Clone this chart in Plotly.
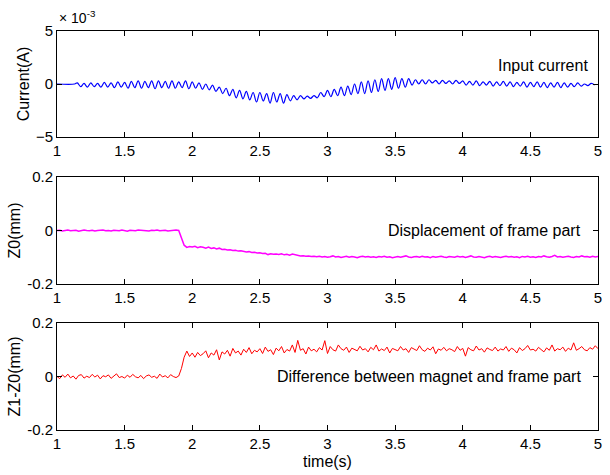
import numpy as np
import plotly.graph_objects as go

# ---------------- data ----------------
# Input current (units of 1e-3 A): alternating peak/trough values, one every 0.025 s from t=1.15 s
current_osc_mA = [
    0.1, -0.25, 0.05, -0.3, 0.1, -0.25, 0.05, -0.3, 0.15, -0.3,
    0.1, -0.35, 0.2, -0.3, 0.15, -0.4, 0.25, -0.35,
    0.3, -0.4, 0.25, -0.35, 0.3, -0.45, 0.3, -0.35, 0.25, -0.4, 0.3, -0.4, 0.2, -0.35, 0.3, -0.45,
    0.2, -0.4, 0.1, -0.5, 0.0, -0.55, -0.1, -0.7,
    -0.3, -0.9, -0.4, -1.1, -0.5, -1.3, -0.6, -1.4,
    -0.7, -1.5, -0.8, -1.7, -0.8, -1.6, -0.9, -1.8, -0.8, -1.7, -0.9, -1.8,
    -1.0, -1.6, -1.1, -1.5, -1.1, -1.4, -1.15, -1.35, -1.1, -1.3,
    -0.8, -1.2, -0.6, -1.2, -0.5, -1.1, -0.3, -1.1, -0.2, -1.0,
    0.0, -0.9, 0.2, -0.9, 0.3, -0.8, 0.4, -0.7, 0.5, -0.6, 0.5, -0.5, 0.6, -0.4, 0.5, -0.3,
    0.5, -0.1, 0.4, 0.0, 0.4, 0.0, 0.4, 0.1, 0.35, 0.0, 0.35, 0.05, 0.3, 0.0, 0.35, 0.05,
    0.3, -0.1, 0.25, -0.1, 0.3, -0.15, 0.2, -0.1, 0.25, -0.2, 0.2, -0.15, 0.25, -0.2, 0.2, -0.25,
    0.15, -0.2, 0.2, -0.3, 0.15, -0.25, 0.2, -0.3, 0.15, -0.35, 0.1, -0.3, 0.15, -0.35, 0.1, -0.3,
    0.05, -0.25, 0.1, -0.2, 0.0, -0.15, 0.05, -0.1,
]
current_start_t = [1.0, 1.13]
current_start_mA = [0.0, 0.0]

# Displacement of frame part Z0 (micrometres), sampled every 0.02 s from 1.00 to 5.00 s
z0_um = [
    0, 1, -2, 0, 2, -1, 0, 1, -3, 0, 2, 0, -1, 1, -2, 0, 1, 2, -1, 0,
    -2, 1, 0, -1, 2, 0, -3, 1, 0, -1, 2, 1, -1, 0, -2, 1, 0, 2, -1, 0,
    1, -2, 0, 1, 2, 0,
    -25, -55, -63, -60, -62, -59, -64, -61, -63, -66,
    -62, -67, -65, -69, -66, -71, -70, -73, -72, -75,
    -74, -77, -76, -78, -80, -79, -82, -81, -84, -83,
    -86, -85, -90, -87, -89, -88, -90, -87, -91, -89,
    -92, -88, -91, -93, -95, -94, -96, -95, -97, -96,
    -98, -96, -99, -97, -100, -98, -95, -99, -97, -101,
    -98, -96, -100, -97, -99, -102, -98, -96, -99, -97,
    -100, -98, -101, -97, -99, -96, -100, -98, -102, -99,
    -97, -100, -98, -95, -99, -101, -98, -97, -100, -96,
    -99, -98, -102, -97, -100, -98, -96, -99, -101, -97,
    -98, -100, -96, -99, -97, -101, -98, -95, -99, -100,
    -97, -99, -102, -98, -96, -100, -97, -99, -101, -98,
    -96, -99, -97, -100, -98, -102, -97, -99, -96, -100,
    -98, -101, -97, -99, -95, -98, -100, -97, -93, -99,
    -97, -100, -98, -96, -99, -101, -97, -99, -95, -98,
    -97, -100, -96, -99, -97,
]

# Difference between magnet and frame part Z1-Z0 (micrometres), every 0.02 s from 1.00 to 5.00 s
diff_um = [
    0, -8, 6, -3, 9, -5, 2, -10, 4, 7, -6, 1, -4, 8, -2, 5, -9, 3, -1, 6,
    -7, 2, 10, -4, 0, -6, 5, -3, 8, -1, -5, 4, -8, 2, 6, -3, 1, -7, 9, -2,
    3, -5, 7, 0, -4, 2,
    30, 72, 95, 75, 88, 72, 90, 78, 85, 96,
    70, 88, 80, 100, 62, 92, 84, 98, 76, 105,
    88, 95, 80, 102, 90, 108, 85, 98, 92, 104,
    86, 110, 94, 100, 82, 106, 96, 112, 88, 101,
    95, 118, 90, 135, 98, 104, 84, 110, 96, 102,
    92, 108, 99, 134, 86, 112, 100, 95, 118, 104,
    98, 110, 90, 106, 101, 96, 113, 99, 104, 92,
    109, 100, 118, 95, 103, 97, 110, 88, 105, 101,
    96, 112, 99, 104, 90, 108, 102, 97, 115, 100,
    94, 106, 99, 111, 85, 103, 98, 109, 96, 104,
    100, 93, 112, 98, 105, 76, 108, 100, 96, 114,
    99, 104, 91, 107, 101, 97, 110, 95, 103, 99,
    112, 94, 106, 100, 88, 108, 97, 104, 116, 99,
    102, 95, 109, 100, 92, 107, 98, 118, 95, 104,
    100, 110, 94, 106, 99, 126, 98, 104, 112, 100,
    96, 108, 102, 115, 104,
]

x_ticks = [1, 1.5, 2, 2.5, 3, 3.5, 4, 4.5, 5]
y1_ticks = [-5, 0, 5]
y23_ticks = [-0.2, 0, 0.2]
y23_ticklabels = ["-0.2", "0", "0.2"]

# ---------------- build ----------------
t_cur = current_start_t + [1.15 + 0.025 * i for i in range(len(current_osc_mA))]
y_cur = current_start_mA + current_osc_mA
t_z0 = np.linspace(1, 5, len(z0_um))
t_diff = np.linspace(1, 5, len(diff_um))

FONT = "Liberation Sans, Arial, sans-serif"
TXT = 16
TICK = 15

fig = go.Figure()
fig.add_trace(go.Scatter(x=t_cur, y=y_cur, mode="lines", line=dict(color="#0000ff", width=1.2, shape="spline"),
                         xaxis="x", yaxis="y", showlegend=False))
fig.add_trace(go.Scatter(x=t_z0, y=np.array(z0_um) / 1000.0, mode="lines", line=dict(color="#ff00ff", width=1.5),
                         xaxis="x2", yaxis="y2", showlegend=False))
fig.add_trace(go.Scatter(x=t_diff, y=np.array(diff_um) / 1000.0, mode="lines", line=dict(color="#ff0000", width=1),
                         xaxis="x3", yaxis="y3", showlegend=False))

H = 475
top, bot = 31, 45
ph = H - top - bot
def dom(py_top, py_bot):
    return [(H - bot - py_bot) / ph, (H - bot - py_top) / ph]

ax_common = dict(showline=True, linecolor="black", linewidth=1, mirror="ticks", ticks="inside",
                 ticklen=5, tickcolor="black", showgrid=False, zeroline=False, automargin=False,
                 tickfont=dict(family=FONT, size=TICK, color="black"))

xax = dict(range=[1, 5], tickvals=x_ticks, **ax_common)
layout = dict(
    width=610, height=475, margin=dict(l=57, r=12, t=top, b=bot),
    paper_bgcolor="white", plot_bgcolor="white",
    font=dict(family=FONT, size=TXT, color="black"),
    xaxis=dict(domain=[0, 1], anchor="y", **xax),
    xaxis2=dict(domain=[0, 1], anchor="y2", **xax),
    xaxis3=dict(domain=[0, 1], anchor="y3", title=dict(text="time(s)", standoff=4,
                font=dict(family=FONT, size=TXT)), **xax),
    yaxis=dict(domain=dom(31, 137), anchor="x", range=[-5, 5], tickvals=y1_ticks,
               title=dict(text="Current(A)", standoff=2, font=dict(family=FONT, size=TXT)), **ax_common),
    yaxis2=dict(domain=dom(177, 284), anchor="x2", range=[-0.2, 0.2], tickvals=y23_ticks,
                ticktext=y23_ticklabels,
                title=dict(text="Z0(mm)", standoff=2, font=dict(family=FONT, size=TXT)), **ax_common),
    yaxis3=dict(domain=dom(323, 430), anchor="x3", range=[-0.2, 0.2], tickvals=y23_ticks,
                ticktext=y23_ticklabels,
                title=dict(text="Z1-Z0(mm)", standoff=2, font=dict(family=FONT, size=TXT)), **ax_common),
    annotations=[
        dict(text="× 10<sup>-3</sup>", xref="paper", yref="paper", x=0.0, y=1.0, yshift=3,
             xanchor="left", yanchor="bottom", showarrow=False, font=dict(family=FONT, size=14)),
        dict(text="Input current", xref="x", yref="y", x=4.94, y=1.7, xanchor="right",
             yanchor="middle", showarrow=False, font=dict(family=FONT, size=TXT)),
        dict(text="Displacement of frame part", xref="x2", yref="y2", x=4.89, y=0.0, xanchor="right",
             yanchor="middle", showarrow=False, font=dict(family=FONT, size=TXT)),
        dict(text="Difference between magnet and frame part", xref="x3", yref="y3", x=4.89, y=0.0,
             xanchor="right", yanchor="middle", showarrow=False, font=dict(family=FONT, size=TXT)),
    ],
)
fig.update_layout(**layout)
fig.write_html("out.html")
